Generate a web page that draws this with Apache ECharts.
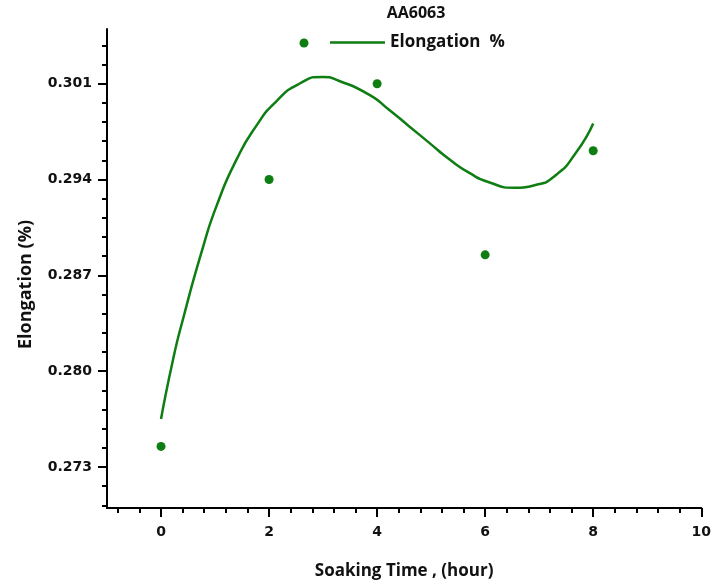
<!DOCTYPE html>
<html>
<head>
<meta charset="utf-8">
<script src="https://cdn.jsdelivr.net/npm/echarts@6/dist/echarts.min.js"></script>
<style>html,body{margin:0;padding:0;background:#fff}#c{width:714px;height:585px}</style>
</head>
<body>
<div id="c"></div>
<script>
// Measured data points
const soakHours = [0, 2, 4, 6, 8];
const elongation = [0.2745, 0.2940, 0.3010, 0.2885, 0.2961];
// Fitted curve
const curveX = [0.00, 0.22, 0.40, 0.78, 1.05, 1.39, 1.76, 2.13, 2.56, 2.99, 3.30, 3.85, 4.22, 4.59, 4.96, 5.33, 5.70, 6.07, 6.56, 6.93, 7.30, 7.67, 8.00];
const curveY = [0.2765, 0.2808, 0.2837, 0.2891, 0.2923, 0.2954, 0.2979, 0.2997, 0.3010, 0.3015, 0.3012, 0.3002, 0.2991, 0.2979, 0.2967, 0.2955, 0.2945, 0.2938, 0.2934, 0.2936, 0.2943, 0.2959, 0.2981];
// Tick labels
const xMajorTicks = [0, 2, 4, 6, 8, 10];
const xMinorTicks = [-0.8, -0.4, 0.4, 0.8, 1.2, 1.6, 2.4, 2.8, 3.2, 3.6, 4.4, 4.8, 5.2, 5.6, 6.4, 6.8, 7.2, 7.6, 8.4, 8.8, 9.2, 9.6];
const yMajorTicks = [0.273, 0.280, 0.287, 0.294, 0.301];
const yMinorTicks = [0.2702, 0.2716, 0.2744, 0.2758, 0.2772, 0.2786, 0.2814, 0.2828, 0.2842, 0.2856, 0.2884, 0.2898, 0.2912, 0.2926, 0.2954, 0.2968, 0.2982, 0.2996, 0.3024, 0.3038];

const green = '#0e7d12';
const titleFont = {fontFamily: 'Open Sans', fontWeight: 'bold', fontSize: 17, color: '#111'};
const tickFont = {fontFamily: 'DejaVu Sans', fontWeight: 'bold', fontSize: 14, color: '#111'};
const chart = echarts.init(document.getElementById('c'));
const baseX = {type: 'value', min: -1, max: 10, position: 'bottom', splitLine: {show: false}};
const baseY = {type: 'value', min: 0.270, max: 0.305, position: 'left', splitLine: {show: false}};
chart.setOption({
  animation: false,
  title: {text: 'AA6063', left: 416, top: 5, textAlign: 'center', padding: 0,
    textStyle: {fontFamily: 'Open Sans', fontWeight: 'bold', fontSize: 16, color: '#111'}},
  legend: [
    {data: ['pts'], left: 299.5, top: 38.5, padding: 0, icon: 'circle', itemWidth: 9, itemHeight: 9,
      formatter: () => '', textStyle: {fontSize: 1}},
    {data: [{name: 'Elongation  %', icon: 'rect'}], left: 330, top: 34, padding: 0,
      itemWidth: 55, itemHeight: 2.5, textStyle: titleFont}
  ],
  grid: {left: 107, right: 11, top: 29, bottom: 77, containLabel: false},
  xAxis: [
    Object.assign({}, baseX, {
      name: 'Soaking Time , (hour)', nameLocation: 'middle', nameGap: 55,
      nameTextStyle: titleFont,
      axisLine: {onZero: false, lineStyle: {color: '#000', width: 2}},
      axisTick: {customValues: xMajorTicks, length: 9, lineStyle: {color: '#000', width: 2}},
      axisLabel: Object.assign({customValues: xMajorTicks, margin: 17}, tickFont)
    }),
    Object.assign({}, baseX, {
      axisLine: {show: false, onZero: false},
      axisTick: {customValues: xMinorTicks, length: 5, lineStyle: {color: '#000', width: 2}},
      axisLabel: {show: false}
    })
  ],
  yAxis: [
    Object.assign({}, baseY, {
      name: 'Elongation (%)', nameLocation: 'middle', nameGap: 72,
      nameTextStyle: Object.assign({padding: [0, 32, 0, 0]}, titleFont, {fontSize: 18}),
      axisLine: {onZero: false, lineStyle: {color: '#000', width: 2}},
      axisTick: {customValues: yMajorTicks, length: 9, lineStyle: {color: '#000', width: 2}},
      axisLabel: Object.assign({customValues: yMajorTicks, margin: 15, formatter: v => v.toFixed(3)}, tickFont)
    }),
    Object.assign({}, baseY, {
      axisLine: {show: false, onZero: false},
      axisTick: {customValues: yMinorTicks, length: 5, lineStyle: {color: '#000', width: 2}},
      axisLabel: {show: false}
    })
  ],
  series: [
    {name: 'pts', type: 'scatter', xAxisIndex: 0, yAxisIndex: 0, symbolSize: 9,
      itemStyle: {color: green, opacity: 1}, data: soakHours.map((x, i) => [x, elongation[i]])},
    {name: 'Elongation  %', type: 'line', xAxisIndex: 0, yAxisIndex: 0, smooth: 0.6, symbol: 'none',
      lineStyle: {color: green, width: 2.5}, itemStyle: {color: green},
      data: curveX.map((x, i) => [x, curveY[i]])}
  ]
});
</script>
</body>
</html>
